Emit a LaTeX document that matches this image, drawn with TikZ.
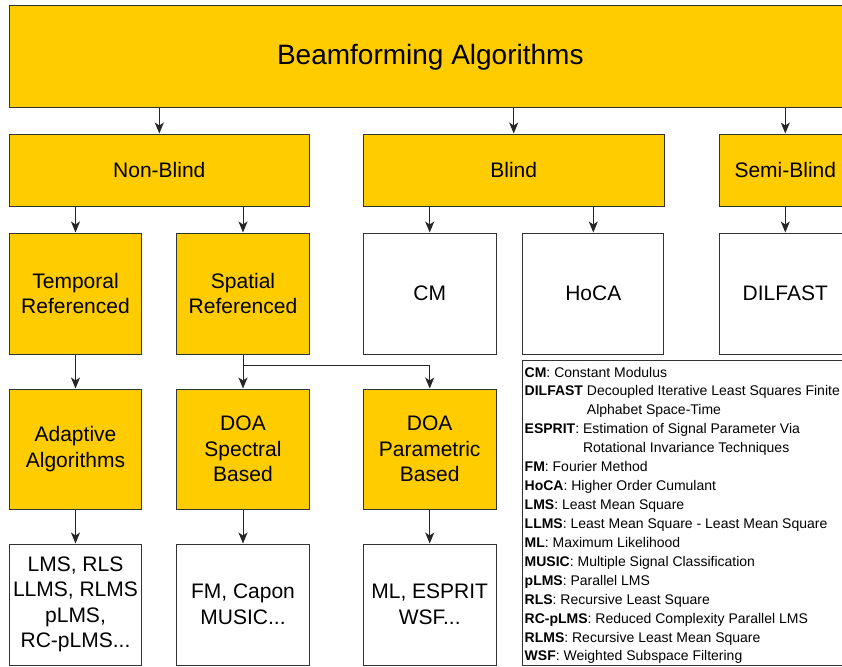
\documentclass[tikz,border=0pt]{standalone}
\usepackage{fontspec}
\setmainfont{Liberation Sans}
\usetikzlibrary{arrows.meta,calc}
\definecolor{gold}{HTML}{FFCC00}
\definecolor{edgec}{HTML}{333333}
\begin{document}
\begin{tikzpicture}[x=1pt,y=-1pt,
  box/.style={draw=edgec, line width=1pt, rectangle, inner sep=0pt, align=center,
              font=\fontsize{21}{25.5}\selectfont},
  gbox/.style={box, fill=gold},
  wbox/.style={box, fill=white},
  arr/.style={draw=black!85, line width=1pt, -{Stealth[length=11pt,width=9pt,inset=3pt]}},
  legtext/.style={anchor=base west, inner sep=0pt, font=\fontsize{14}{17}\selectfont}
]
\clip (0,0) rectangle (842,666);
\fill[white] (0,0) rectangle (842,666);

% row 1
\node[gbox, minimum width=842pt, minimum height=101.7pt, font=\fontsize{28}{33}\selectfont]
  (top) at (430.3,56.85) {Beamforming Algorithms};

% row 2
\node[gbox, minimum width=300pt, minimum height=72pt] (nonblind) at (159.3,170) {Non-Blind};
\node[gbox, minimum width=300.7pt, minimum height=72pt] (blind) at (513.7,170) {Blind};
\node[gbox, minimum width=132pt, minimum height=72pt] (semi) at (785.3,170) {Semi-Blind};

% row 3
\node[gbox, minimum width=132.4pt, minimum height=121pt] (temporal) at (75.5,293.5) {Temporal\\Referenced};
\node[gbox, minimum width=132.6pt, minimum height=121pt] (spatial) at (243,293.5) {Spatial\\Referenced};
\node[wbox, minimum width=132.7pt, minimum height=121pt] (cm) at (429.7,293.5) {CM};
\node[wbox, minimum width=141.3pt, minimum height=121pt] (hoca) at (593.3,293.5) {HoCA};
\node[wbox, minimum width=132pt, minimum height=121pt] (dilfast) at (785.3,293.5) {DILFAST};

% row 4
\node[gbox, minimum width=132.4pt, minimum height=120pt] (adaptive) at (75.5,449) {Adaptive\\Algorithms};
\node[gbox, minimum width=132.6pt, minimum height=120pt] (spectral) at (243,449) {DOA\\Spectral\\Based};
\node[gbox, minimum width=132.7pt, minimum height=120pt] (parametric) at (429.7,449) {DOA\\Parametric\\Based};

% row 5
\node[wbox, minimum width=132.4pt, minimum height=121pt] (lms) at (75.5,604.5) {LMS, RLS\\LLMS, RLMS\\pLMS,\\RC-pLMS...};
\node[wbox, minimum width=132.6pt, minimum height=121pt] (fm) at (243,604.5) {FM, Capon\\MUSIC...};
\node[wbox, minimum width=132.7pt, minimum height=121pt] (ml) at (429.7,604.5) {ML, ESPRIT\\WSF...};

% legend
\node[draw=edgec, line width=1pt, fill=white, rectangle, inner sep=0pt,
      minimum width=337.3pt, minimum height=304.3pt] (legend) at (691.35,512.85) {};
\foreach \t [count=\i] in {
  {\textbf{CM}: Constant Modulus},
  {\textbf{DILFAST} Decoupled Iterative Least Squares Finite},
  {\phantom{\textbf{DILFAST} }Alphabet Space-Time},
  {\textbf{ESPRIT}: Estimation of Signal Parameter Via},
  {\phantom{\textbf{ESPRIT}: }Rotational Invariance Techniques},
  {\textbf{FM}: Fourier Method},
  {\textbf{HoCA}: Higher Order Cumulant},
  {\textbf{LMS}: Least Mean Square},
  {\textbf{LLMS}: Least Mean Square - Least Mean Square},
  {\textbf{ML}: Maximum Likelihood},
  {\textbf{MUSIC}: Multiple Signal Classification},
  {\textbf{pLMS}: Parallel LMS},
  {\textbf{RLS}: Recursive Least Square},
  {\textbf{RC-pLMS}: Reduced Complexity Parallel LMS},
  {\textbf{RLMS}: Recursive Least Mean Square},
  {\textbf{WSF}: Weighted Subspace Filtering}}
{
  \node[legtext] (lg\i) at (524.5,{377+18.93*(\i-1)}) {\t};
}

% connectors
\draw[arr] (nonblind.north |- top.south) -- (nonblind.north);
\draw[arr] (blind.north |- top.south) -- (blind.north);
\draw[arr] (semi.north |- top.south) -- (semi.north);

\draw[arr] (temporal.north |- nonblind.south) -- (temporal.north);
\draw[arr] (spatial.north |- nonblind.south) -- (spatial.north);
\draw[arr] (cm.north |- blind.south) -- (cm.north);
\draw[arr] (hoca.north |- blind.south) -- (hoca.north);
\draw[arr] (dilfast.north |- semi.south) -- (dilfast.north);

\draw[arr] (temporal) -- (adaptive);
\draw[arr] (spatial) -- (spectral);
\coordinate (branch) at ($(spatial.south)+(0,11)$);
\draw[arr] (branch) -| (parametric.north);

\draw[arr] (adaptive) -- (lms);
\draw[arr] (spectral) -- (fm);
\draw[arr] (parametric) -- (ml);
\end{tikzpicture}
\end{document}
